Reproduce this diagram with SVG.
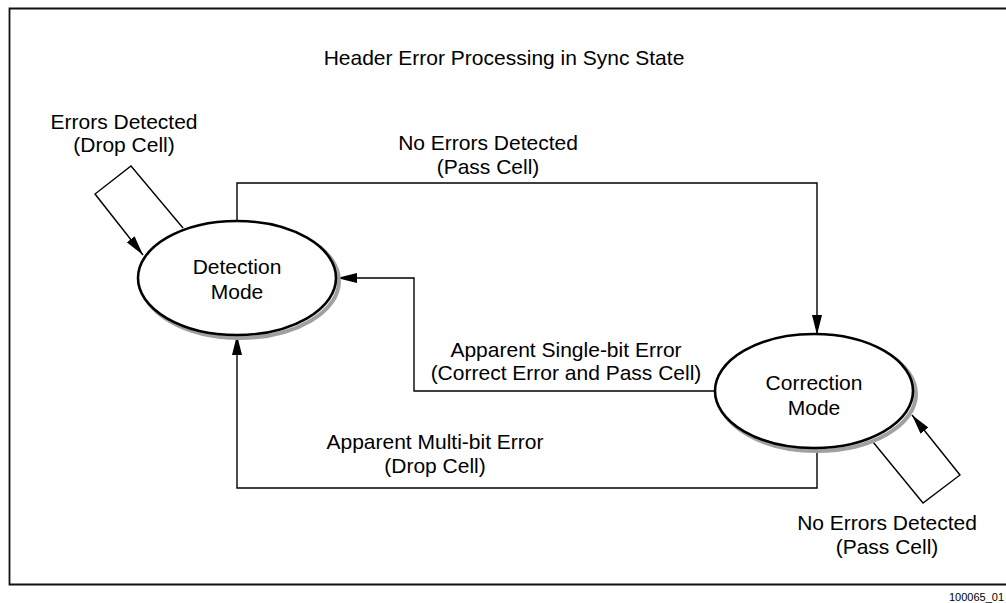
<svg xmlns="http://www.w3.org/2000/svg" width="1006" height="603" viewBox="0 0 1006 603">
  <style>
    text { font-family: "Liberation Sans", Arial, sans-serif; font-size: 21px; fill: #000; text-anchor: middle; }
    .conn { fill: none; stroke: #000; stroke-width: 1.4; }
    .state { fill: #fff; stroke: #000; stroke-width: 2.6; }
    .shadow { fill: none; stroke: #a0a0a0; stroke-width: 4; }
    .tag { font-size: 11px; text-anchor: end; }
  </style>
  <defs>
    <marker id="arrow" viewBox="0 0 20 10" refX="20" refY="5" markerWidth="20" markerHeight="10" markerUnits="userSpaceOnUse" orient="auto">
      <path d="M0,0 L20,5 L0,10 Z" fill="#000"/>
    </marker>
  </defs>

  <rect width="1006" height="603" fill="#fff"/>
  <!-- outer frame, open on the right -->
  <path d="M1010,8.5 H9.5 V584.5 H1010" fill="none" stroke="#111" stroke-width="1.8"/>

  <text x="504" y="65">Header Error Processing in Sync State</text>

  <g id="connectors">
    <!-- Detection -> Correction, no errors -->
    <path class="conn" d="M237,221 V183 H817 V335" marker-end="url(#arrow)"/>
    <!-- Correction -> Detection, single-bit error -->
    <path class="conn" d="M715,391 H414 V278 H337" marker-end="url(#arrow)"/>
    <!-- Correction -> Detection, multi-bit error -->
    <path class="conn" d="M817,448 V488 H237 V335" marker-end="url(#arrow)"/>
    <!-- Detection self loop -->
    <path class="conn" d="M183,228 L131,166 L95,194 L143,255" marker-end="url(#arrow)"/>
    <!-- Correction self loop -->
    <path class="conn" d="M873,442 L923,503 L960,475 L912,415" marker-end="url(#arrow)"/>
  </g>

  <g id="labels">
    <text x="124" y="129">Errors Detected</text>
    <text x="124" y="152">(Drop Cell)</text>
    <text x="488" y="150">No Errors Detected</text>
    <text x="488" y="174">(Pass Cell)</text>
    <text x="566" y="357">Apparent Single-bit Error</text>
    <text x="566" y="380">(Correct Error and Pass Cell)</text>
    <text x="435" y="449">Apparent Multi-bit Error</text>
    <text x="435" y="473">(Drop Cell)</text>
    <text x="887" y="530">No Errors Detected</text>
    <text x="887" y="554">(Pass Cell)</text>
  </g>

  <g id="detection-mode">
    <ellipse class="shadow" cx="240" cy="281" rx="99" ry="57"/>
    <ellipse class="state" cx="237" cy="278" rx="99" ry="57"/>
    <text x="237" y="274">Detection</text>
    <text x="237" y="299">Mode</text>
  </g>

  <g id="correction-mode">
    <ellipse class="shadow" cx="817" cy="394" rx="99" ry="57"/>
    <ellipse class="state" cx="814" cy="391" rx="99" ry="57"/>
    <text x="814" y="390">Correction</text>
    <text x="814" y="415">Mode</text>
  </g>

  <text class="tag" x="1004" y="601">100065_01</text>
</svg>
